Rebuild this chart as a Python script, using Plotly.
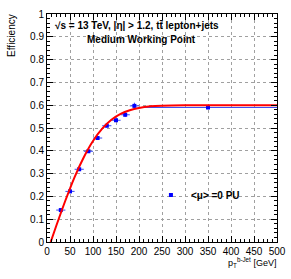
import plotly.graph_objects as go

# Data
pt_centers = [30, 50, 70, 90, 110, 130, 150, 170, 190, 350]
pt_halfwidth = [10, 10, 10, 10, 10, 10, 10, 10, 10, 150]
efficiency = [0.140, 0.222, 0.319, 0.398, 0.456, 0.510, 0.534, 0.558, 0.597, 0.590]
eff_err = [0.008, 0.008, 0.008, 0.007, 0.007, 0.007, 0.008, 0.010, 0.014, 0.008]

fit_x = [8, 20, 40, 60, 80, 100, 120, 140, 160, 180, 200, 225, 250, 300, 400, 500]
fit_y = [0.0, 0.070, 0.182, 0.285, 0.372, 0.443, 0.497, 0.536, 0.562, 0.578, 0.588, 0.595, 0.598, 0.600, 0.600, 0.600]

x_ticks = [0, 50, 100, 150, 200, 250, 300, 350, 400, 450, 500]
y_ticks = [0, 0.1, 0.2, 0.3, 0.4, 0.5, 0.6, 0.7, 0.8, 0.9, 1]
y_tick_labels = ["0", "0.1", "0.2", "0.3", "0.4", "0.5", "0.6", "0.7", "0.8", "0.9", "1"]

FONT = "Liberation Sans, Arial, Helvetica, sans-serif"

fig = go.Figure()

fig.add_trace(go.Scatter(
    x=pt_centers, y=efficiency, mode="markers",
    marker=dict(symbol="square", size=4, color="#0000ff"),
    error_x=dict(type="data", array=pt_halfwidth, color="#3a4cf0", thickness=1, width=0),
    error_y=dict(type="data", array=eff_err, color="#3a4cf0", thickness=1, width=0),
    name="<b>&lt;μ&gt; =0 PU</b>", showlegend=True,
))

fig.add_trace(go.Scatter(
    x=fit_x, y=fit_y, mode="lines",
    line=dict(color="#ff0000", width=2, shape="spline", smoothing=0.8),
    showlegend=False, hoverinfo="skip",
))

axis_common = dict(
    showline=True, linecolor="black", linewidth=1, mirror="allticks",
    ticks="inside", ticklen=6, tickcolor="black", tickwidth=1,
    showgrid=True, gridcolor="#a0a0a0", griddash="dot", gridwidth=1,
    zeroline=False, ticklabeloverflow="allow",
    tickfont=dict(family=FONT, size=10, color="black"),
)

fig.update_xaxes(
    range=[0, 500], tickmode="array", tickvals=x_ticks,
    minor=dict(dtick=10, ticks="inside", ticklen=3, tickcolor="black", showgrid=False),
    **axis_common,
)
fig.update_yaxes(
    range=[0, 1], tickmode="array", tickvals=y_ticks, ticktext=y_tick_labels,
    minor=dict(dtick=0.02, ticks="inside", ticklen=3, tickcolor="black", showgrid=False),
    **axis_common,
)

L, T, W, H = 47, 14, 239, 228

def px(pix):
    return (pix - L) / W

def py(pix):
    return (T + H - pix) / H

fig.update_layout(
    width=291, height=279,
    margin=dict(l=L, r=291 - L - W, t=T, b=279 - T - H),
    paper_bgcolor="white", plot_bgcolor="white",
    font=dict(family=FONT, size=10, color="black"),
    legend=dict(x=px(155), y=py(195), xanchor="left", yanchor="middle",
                bgcolor="rgba(0,0,0,0)", font=dict(family=FONT, size=10, color="black"),
                itemwidth=30),
)

fig.add_annotation(text="<b>√s = 13 TeV, |η| > 1.2, tt̄ lepton+jets</b>", x=px(141), y=py(25),
                   xref="paper", yref="paper", showarrow=False, xanchor="center", yanchor="middle",
                   font=dict(size=10, family=FONT))
fig.add_annotation(text="<b>Medium Working Point</b>", x=px(145), y=py(39),
                   xref="paper", yref="paper", showarrow=False, xanchor="center", yanchor="middle",
                   font=dict(size=10, family=FONT))
fig.add_annotation(text="Efficiency", x=px(10), y=py(12), textangle=-90,
                   xref="paper", yref="paper", showarrow=False, xanchor="center", yanchor="top",
                   font=dict(size=10, family=FONT))
fig.add_annotation(text="p<sub>T</sub><sup>b-Jet</sup> [GeV]", x=px(287), y=py(254),
                   xref="paper", yref="paper", showarrow=False, xanchor="right", yanchor="top",
                   font=dict(size=9, family=FONT))

fig.write_html("out.html", config={"displayModeBar": False},
               post_script="document.body.style.margin='0';document.body.style.overflow='hidden';")
